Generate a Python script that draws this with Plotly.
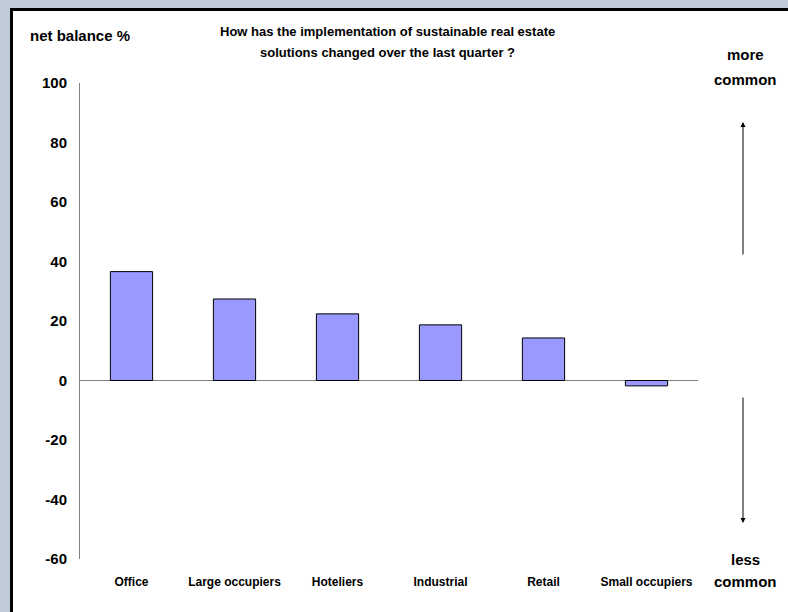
import plotly.graph_objects as go

categories = ["Office", "Large occupiers", "Hoteliers", "Industrial", "Retail", "Small occupiers"]
values = [36.6, 27.4, 22.4, 18.7, 14.3, -1.8]
tick_vals = [-60, -40, -20, 0, 20, 40, 60, 80, 100]
tick_text = ["-60", "-40", "-20", "0", "20", "40", "60", "80", "100"]

W, H = 788, 612
L, R, T, B = 80, 90, 83, 53
pw, ph = W - L - R, H - T - B

def px(x):
    return (x - L) / pw

def py(y):
    return (H - B - y) / ph

FONT = "Liberation Sans Narrow, Arial Narrow, Liberation Sans, Arial, sans-serif"

fig = go.Figure(go.Bar(
    x=categories, y=values, width=0.41,
    marker=dict(color="#9999ff", line=dict(color="black", width=1)),
    hoverinfo="skip",
))

shapes = [
    dict(type="rect", xref="paper", yref="paper", x0=px(0), x1=px(W), y0=py(0), y1=py(8),
         fillcolor="#c0ccd7", line_width=0, layer="above"),
    dict(type="rect", xref="paper", yref="paper", x0=px(0), x1=px(10), y0=py(0), y1=py(H),
         fillcolor="#c0ccd7", line_width=0, layer="above"),
    dict(type="rect", xref="paper", yref="paper", x0=px(10), x1=px(W), y0=py(8), y1=py(11),
         fillcolor="black", line_width=0, layer="above"),
    dict(type="rect", xref="paper", yref="paper", x0=px(10), x1=px(13), y0=py(8), y1=py(H),
         fillcolor="black", line_width=0, layer="above"),
]

ann = [
    dict(text="<b>net balance %</b>", x=px(28), y=py(36), xanchor="left", yanchor="middle",
         font=dict(size=15)),
    dict(text="<b>How has the implementation of sustainable real estate</b>",
         x=px(387), y=py(32), xanchor="center", yanchor="middle", font=dict(size=13)),
    dict(text="<b>solutions changed over the last quarter ?</b>",
         x=px(387), y=py(52), xanchor="center", yanchor="middle", font=dict(size=13)),
    dict(text="<b>more</b>", x=px(745), y=py(55), xanchor="center", yanchor="middle",
         font=dict(size=15)),
    dict(text="<b>common</b>", x=px(745), y=py(79), xanchor="center", yanchor="middle",
         font=dict(size=15)),
    dict(text="<b>less</b>", x=px(745), y=py(559), xanchor="center", yanchor="middle",
         font=dict(size=15)),
    dict(text="<b>common</b>", x=px(745), y=py(581), xanchor="center", yanchor="middle",
         font=dict(size=15)),
    dict(text="", x=px(743), y=py(122), ax=0, ay=134, showarrow=True, arrowhead=2,
         arrowsize=1, arrowwidth=1, arrowcolor="black"),
    dict(text="", x=px(743), y=py(523), ax=0, ay=-127, showarrow=True, arrowhead=2,
         arrowsize=1, arrowwidth=1, arrowcolor="black"),
]
for a in ann:
    a.setdefault("xref", "paper")
    a.setdefault("yref", "paper")
    a.setdefault("showarrow", False)
    a["font"] = dict(family=FONT, color="black", **a.get("font", {}))

fig.update_layout(
    width=W, height=H,
    margin=dict(l=L, r=R, t=T, b=B, pad=0),
    paper_bgcolor="white", plot_bgcolor="white",
    showlegend=False,
    font=dict(family=FONT, color="black"),
    shapes=shapes, annotations=ann,
    xaxis=dict(showline=False, showgrid=False, zeroline=False, ticks="",
               tickfont=dict(size=12, family=FONT, weight="bold"), ticklabelstandoff=14),
    yaxis=dict(range=[-60, 100], tickvals=tick_vals, ticktext=tick_text, showgrid=False,
               showline=True, linecolor="#808080", linewidth=1,
               zeroline=True, zerolinecolor="#808080", zerolinewidth=1,
               ticks="", ticklabelstandoff=9,
               tickfont=dict(size=15, family=FONT, weight="bold")),
)

fig.write_html("out.html")
